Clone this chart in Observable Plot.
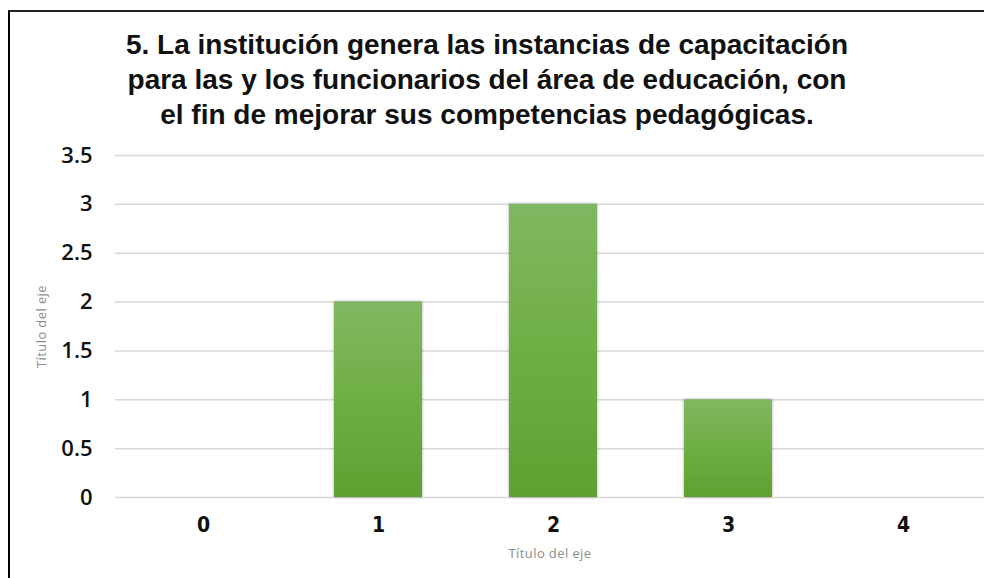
<!DOCTYPE html>
<html>
<head>
<meta charset="utf-8">
<script src="https://cdn.jsdelivr.net/npm/d3@7"></script>
<script src="https://cdn.jsdelivr.net/npm/@observablehq/plot@0.6"></script>
<style>
  html, body { margin: 0; padding: 0; background: #fff; width: 984px; height: 578px; overflow: hidden; }
  #frame { position: absolute; left: 8px; top: 10px; width: 1000px; height: 600px;
           border-top: 2px solid #222; border-left: 2px solid #000; box-sizing: border-box; }
  #title { position: absolute; left: 0; top: 27px; width: 974px; text-align: center;
           font-family: "Liberation Sans", Arial, sans-serif; font-weight: bold; font-size: 28px;
           line-height: 35px; color: #111; z-index: 2; }
  #chart { position: absolute; left: 0; top: 0; }
</style>
</head>
<body>
<div id="frame"></div>
<div id="chart"></div>
<div id="title">5. La institución genera las instancias de capacitación<br>para las y los funcionarios del área de educación, con<br>el fin de mejorar sus competencias pedagógicas.</div>
<script>
const categories = ["0", "1", "2", "3", "4"];
const values = [0, 2, 3, 1, 0];
const yTicks = [0, 0.5, 1, 1.5, 2, 2.5, 3, 3.5];
const yTickLabels = ["0", "0.5", "1", "1.5", "2", "2.5", "3", "3.5"];
const xAxisTitle = "Título del eje";
const yAxisTitle = "Título del eje";

const data = categories.map((c, i) => ({cat: c, value: values[i]}));

const plot = Plot.plot({
  width: 984,
  height: 578,
  marginTop: 155,
  marginBottom: 81,
  marginLeft: 115,
  marginRight: 0,
  style: {background: "transparent", overflow: "visible"},
  x: {domain: categories, range: [115, 990], paddingInner: 0.5, paddingOuter: 0.25, label: null},
  y: {domain: [0, 3.5], label: null},
  marks: [
    Plot.ruleY(yTicks, {stroke: "#d9d9d9", strokeWidth: 1.5}),
    Plot.barY(data.filter(d => d.value > 0), {x: "cat", y: "value", fill: "url(#barGrad)", className: "bars"}),
    Plot.axisY(yTicks, {tickSize: 0, tickPadding: 23, tickFormat: (d) => yTickLabels[yTicks.indexOf(d)],
      fontSize: 22, fontFamily: "Open Sans", fontWeight: 600, fill: "#111", label: null}),
    Plot.axisX(categories, {tickSize: 0, tickPadding: 20, fontSize: 21, fontFamily: "DejaVu Sans Condensed",
      fontWeight: "bold", fill: "#111", label: null}),
    Plot.text([xAxisTitle], {frameAnchor: "bottom", dy: 60, fontSize: 13, fontFamily: "Open Sans",
      fill: "#8c8c8c", text: d => d, className: "axtitle"}),
    Plot.text([yAxisTitle], {frameAnchor: "left", dx: -74, rotate: -90, textAnchor: "middle", fontSize: 13,
      fontFamily: "Open Sans", fill: "#8c8c8c", text: d => d, className: "axtitle"})
  ]
});

const svg = d3.select(plot);
const defs = svg.insert("defs", ":first-child");
const g = defs.append("linearGradient").attr("id", "barGrad").attr("x1", 0).attr("y1", 0).attr("x2", 0).attr("y2", 1);
g.append("stop").attr("offset", "0%").attr("stop-color", "#80b862");
g.append("stop").attr("offset", "50%").attr("stop-color", "#6fae44");
g.append("stop").attr("offset", "100%").attr("stop-color", "#60a032");
svg.selectAll(".bars rect").style("filter", "drop-shadow(0px 0px 1.5px rgba(0,0,0,0.35))");
svg.selectAll(".axtitle text").style("letter-spacing", "0.4px");

document.getElementById("chart").appendChild(plot);
</script>
</body>
</html>
